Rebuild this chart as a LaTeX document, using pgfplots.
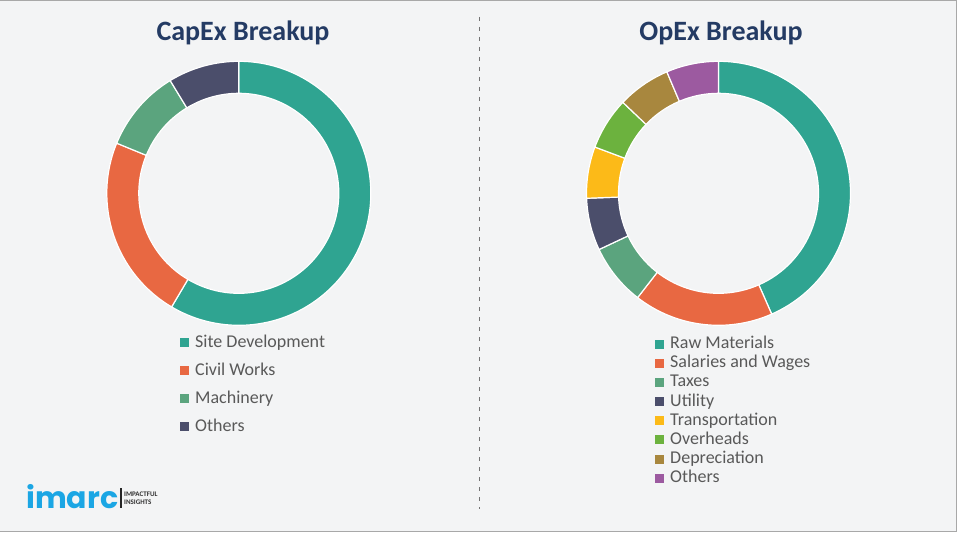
\documentclass[border=0pt]{standalone}
\usepackage{pgfplots}
\pgfplotsset{compat=1.18}
\usepackage{pgfplotstable}
\usepackage{fontspec}
\setmainfont{Carlito}
\newfontfamily\logofont{Poppins}

\definecolor{bg}{HTML}{F3F4F5}
\definecolor{framegray}{HTML}{A8A8A8}
\definecolor{titleblue}{HTML}{243B64}
\definecolor{legendgray}{HTML}{595959}
\definecolor{cTeal}{HTML}{2FA491}
\definecolor{cOrange}{HTML}{E86842}
\definecolor{cSage}{HTML}{5BA47E}
\definecolor{cNavy}{HTML}{4B4E6B}
\definecolor{cYellow}{HTML}{FCBA18}
\definecolor{cGreen}{HTML}{6CB23E}
\definecolor{cBrown}{HTML}{A8873E}
\definecolor{cPurple}{HTML}{9C5AA0}
\definecolor{logoblue}{HTML}{1BA6E4}

% shares in percent, read off the rings
\pgfplotstableread[col sep=comma]{
label,value,col
Site Development,58.5,cTeal
Civil Works,22.7,cOrange
Machinery,10.1,cSage
Others,8.7,cNavy
}\capex

\pgfplotstableread[col sep=comma]{
label,value,col
Raw Materials,43.4,cTeal
Salaries and Wages,17.1,cOrange
Taxes,7.5,cSage
Utility,6.4,cNavy
Transportation,6.3,cYellow
Overheads,6.4,cGreen
Depreciation,6.5,cBrown
Others,6.4,cPurple
}\opex

% ring slices, clockwise from 12 o'clock; #2,#3 centre in axis units
\newcommand\donut[3]{%
  \pgfplotstablegetrowsof{#1}%
  \pgfmathtruncatemacro\lastrow{\pgfplotsretval-1}%
  \def\cum{0}%
  \pgfplotsforeachungrouped \i in {0,...,\lastrow}{%
    \pgfplotstablegetelem{\i}{value}\of#1\let\val\pgfplotsretval
    \pgfplotstablegetelem{\i}{col}\of#1\let\col\pgfplotsretval
    \pgfplotstablegetelem{\i}{label}\of#1\let\lab\pgfplotsretval
    \pgfmathsetmacro\a{90-3.6*\cum}%
    \pgfmathsetmacro\cum{\cum+\val}%
    \pgfmathsetmacro\b{90-3.6*\cum}%
    \edef\temp{%
      \noexpand\fill[fill=\col,draw=white,line width=1.2pt]
        ([shift={(\a:132pt)}]axis cs:#2,#3) arc[start angle=\a,end angle=\b,radius=132pt]
        -- ([shift={(\b:100pt)}]axis cs:#2,#3) arc[start angle=\b,end angle=\a,radius=100pt] -- cycle;
      \noexpand\addlegendimage{fill=\col}%
      \noexpand\addlegendentry{\lab}}%
    \temp
  }%
}

\pgfplotsset{
  ringaxis/.style={
    at={(0pt,0pt)}, anchor=south west,
    width=960pt, height=539pt, scale only axis,
    xmin=0, xmax=960, ymin=0, ymax=539, y dir=reverse,
    axis lines=none, ticks=none, clip=false,
    legend cell align=left,
    legend image code/.code={%
      \fill[##1, draw=none] (0pt,-4.5pt) rectangle (9pt,4.5pt);
      \path[draw=none, fill=none] (0pt,0pt) rectangle (13.5pt,0.1pt);},
    legend style={draw=none, fill=none, inner sep=0pt,
      font=\fontsize{18}{20}\selectfont, text=legendgray,
      nodes={inner sep=1.5pt, text height=12pt, text depth=3.5pt}},
  },
}

\begin{document}
\begin{tikzpicture}
  \path[use as bounding box] (0pt,0pt) rectangle (960pt,539pt);
  \fill[white] (0pt,0pt) rectangle (960pt,539pt);
  \draw[framegray, line width=1pt, fill=bg] (-2pt,7.3pt) rectangle (956.7pt,538.5pt);
  \draw[black!55, line width=1.4pt, dash pattern=on 4pt off 6pt] (479.3pt,522pt) -- (479.3pt,30pt);

  \begin{axis}[ringaxis,
      legend style={at={(axis cs:180,333.5)}, anchor=north west, row sep=9.5pt}]
    \donut{\capex}{238.8}{193.3}
  \end{axis}

  \begin{axis}[ringaxis,
      legend style={at={(axis cs:655,335)}, anchor=north west, row sep=0.6pt}]
    \donut{\opex}{718.5}{193.3}
  \end{axis}

  \node[font=\fontsize{28}{30}\selectfont\bfseries, text=titleblue] at (243pt,506pt) {CapEx Breakup};
  \node[font=\fontsize{28}{30}\selectfont\bfseries, text=titleblue] at (721pt,506pt) {OpEx Breakup};

  % logo
  \node[anchor=base west, inner sep=0pt, font=\fontsize{30}{32}\logofont\bfseries\selectfont, text=logoblue] at (26pt,31pt) {imarc};
  \fill[black!85] (120.3pt,31pt) rectangle (121.5pt,51pt);
  \node[anchor=west, inner sep=0pt, font=\fontsize{7}{7}\selectfont\bfseries, text=black!80] at (124pt,44.7pt) {IMPACTFUL};
  \node[anchor=west, inner sep=0pt, font=\fontsize{7}{7}\selectfont\bfseries, text=black!80] at (124pt,36.3pt) {INSIGHTS};
\end{tikzpicture}
\end{document}
